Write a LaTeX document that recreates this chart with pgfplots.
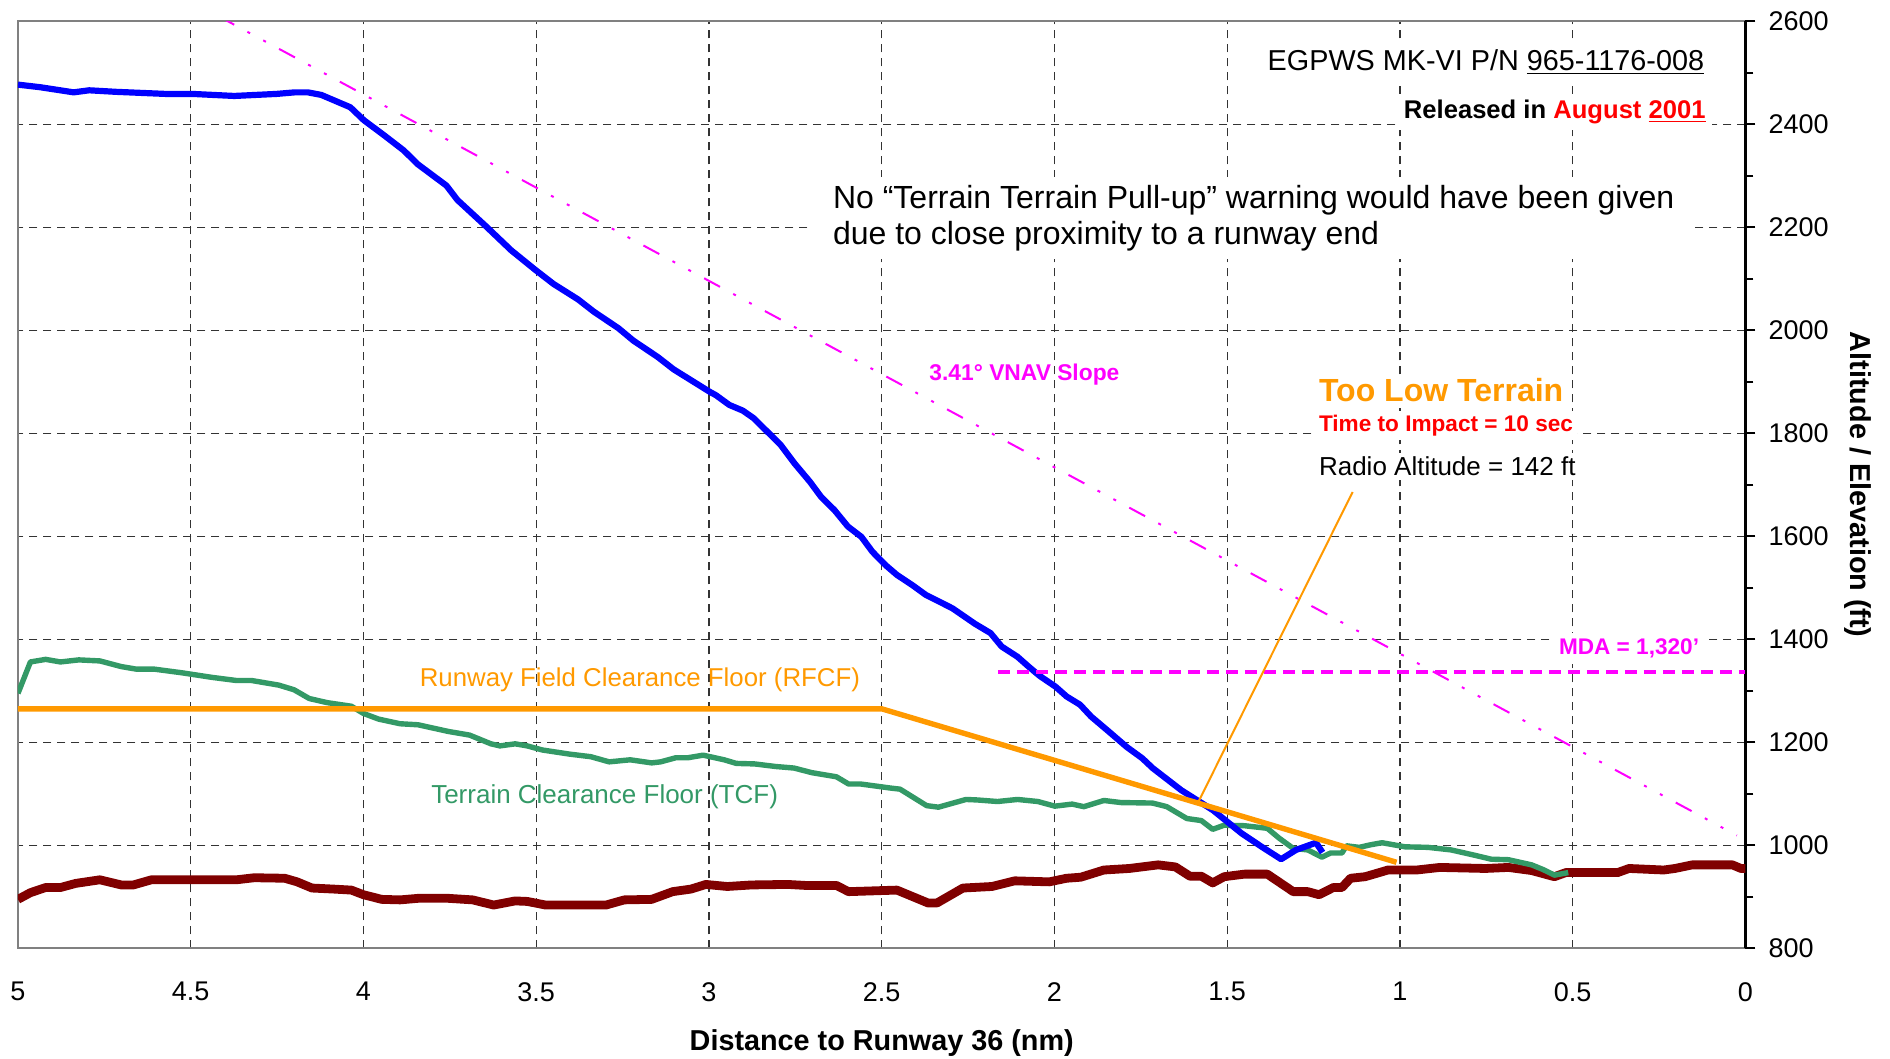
\documentclass[border=0pt]{standalone}
\usepackage{fontspec}
\setmainfont{Liberation Sans}
\usepackage{pgfplots}
\usepackage{pgfplotstable}
\pgfplotsset{compat=1.18}
\usetikzlibrary{calc}

\definecolor{aircraft}{RGB}{0,0,255}
\definecolor{terrain}{RGB}{128,0,0}
\definecolor{tcf}{RGB}{51,153,102}
\definecolor{rfcf}{RGB}{255,153,0}
\definecolor{vnav}{RGB}{255,0,255}
\definecolor{warnred}{RGB}{255,0,0}
\definecolor{framegray}{RGB}{128,128,128}

% aircraft altitude (ft) vs distance to runway (nm)
\pgfplotstableread{
x y
5.000 2477
4.936 2472
4.839 2462
4.794 2466
4.716 2463
4.574 2459
4.496 2459
4.374 2455
4.251 2459
4.199 2462
4.161 2462
4.122 2457
4.038 2433
3.999 2408
3.941 2379
3.883 2349
3.844 2323
3.760 2281
3.728 2253
3.644 2201
3.572 2155
3.502 2117
3.450 2090
3.379 2060
3.333 2036
3.262 2004
3.219 1980
3.148 1948
3.102 1924
2.999 1881
2.980 1874
2.941 1855
2.902 1844
2.870 1829
2.792 1777
2.753 1742
2.708 1706
2.676 1677
2.637 1651
2.598 1619
2.559 1599
2.527 1570
2.489 1544
2.456 1525
2.411 1505
2.372 1486
2.333 1473
2.295 1460
2.230 1430
2.185 1412
2.153 1386
2.107 1366
2.075 1347
2.043 1329
1.997 1308
1.965 1289
1.926 1273
1.894 1250
1.843 1221
1.791 1191
1.746 1169
1.716 1150
1.633 1107
1.541 1068
1.458 1023
1.400 997
1.344 973
1.301 991
1.243 1005
1.224 986
}\altitude

% terrain clearance floor
\pgfplotstableread{
x y
5.000 1295
4.964 1356
4.920 1361
4.877 1356
4.824 1360
4.763 1358
4.701 1347
4.657 1342
4.605 1342
4.526 1335
4.438 1326
4.368 1320
4.324 1320
4.245 1311
4.201 1302
4.157 1285
4.105 1277
4.035 1270
4.000 1256
3.956 1245
3.894 1236
3.842 1234
3.754 1221
3.693 1214
3.631 1197
3.605 1193
3.561 1197
3.526 1193
3.482 1185
3.403 1177
3.342 1172
3.289 1162
3.228 1166
3.166 1160
3.140 1162
3.096 1170
3.061 1170
3.017 1175
2.956 1166
2.921 1159
2.868 1158
2.807 1153
2.754 1150
2.702 1141
2.631 1133
2.596 1119
2.561 1119
2.473 1111
2.447 1109
2.370 1077
2.336 1074
2.256 1089
2.223 1088
2.165 1085
2.107 1089
2.048 1085
1.999 1076
1.949 1080
1.915 1075
1.857 1087
1.808 1083
1.716 1082
1.675 1075
1.617 1052
1.575 1048
1.542 1031
1.509 1039
1.450 1038
1.384 1033
1.350 1014
1.309 994
1.267 991
1.226 977
1.201 985
1.168 985
1.155 999
1.118 996
1.085 1001
1.052 1005
0.985 997
0.919 996
0.852 991
0.786 981
0.736 973
0.686 972
0.619 962
0.586 953
0.553 942
0.513 947
}\tcfloor

% terrain elevation
\pgfplotstableread{
x y
5.000 895
4.964 908
4.920 918
4.877 918
4.833 926
4.763 933
4.701 923
4.666 923
4.614 933
4.368 933
4.316 937
4.228 936
4.192 929
4.149 917
4.087 915
4.035 913
4.000 904
3.947 895
3.894 894
3.842 897
3.754 897
3.684 894
3.623 884
3.561 892
3.526 891
3.473 884
3.298 884
3.245 894
3.166 895
3.105 910
3.052 915
3.009 924
2.947 920
2.877 923
2.772 924
2.719 922
2.631 922
2.596 910
2.456 913
2.366 888
2.340 888
2.265 917
2.181 920
2.115 931
2.015 929
1.965 936
1.924 938
1.857 952
1.783 955
1.700 962
1.650 958
1.608 940
1.575 940
1.542 927
1.509 939
1.450 944
1.384 944
1.309 910
1.267 910
1.234 904
1.193 918
1.168 918
1.143 936
1.101 939
1.060 947
1.035 952
0.952 952
0.885 957
0.753 955
0.686 957
0.619 951
0.553 939
0.520 947
0.370 947
0.337 955
0.237 952
0.204 955
0.154 962
0.038 962
0.013 955
0.000 955
}\terrain

\begin{document}
\begin{tikzpicture}
\begin{axis}[
    name=ax,
    scale only axis,
    width=863.75pt, height=463.5pt,
    xmin=0, xmax=5, ymin=800, ymax=2600,
    x dir=reverse,
    xtick={0,0.5,1,1.5,2,2.5,3,3.5,4,4.5,5},
    ytick={800,1000,1200,1400,1600,1800,2000,2200,2400,2600},
    minor ytick={900,1100,1300,1500,1700,1900,2100,2300,2500},
    ytick pos=right, yticklabel pos=right,
    axis line style={draw=none},
    tick align=outside,
    xtick style={draw=none},
    ytick style={black, line width=0.8pt},
    major tick length=5pt, minor tick length=4pt,
    grid=major,
    major grid style={black!80, line width=0.6pt, dash pattern=on 4pt off 3pt},
    tick label style={font=\fontsize{13.5}{15}\selectfont},
    /pgf/number format/assume math mode=true,
    /pgf/number format/1000 sep={},
    xticklabel style={yshift=-8.5pt},
    yticklabel style={xshift=3pt},
    clip mode=individual,
]
% plot area border and value axis
\draw[framegray, line width=1pt] (axis cs:0,800) -- (axis cs:5,800) -- (axis cs:5,2600) -- (axis cs:0,2600);
\draw[black, line width=1.3pt] (axis cs:0,800) -- (axis cs:0,2600);

\addplot[terrain, line width=4.4pt, line join=round] table {\terrain};
\addplot[tcf, line width=2.7pt, line join=round] table {\tcfloor};
\addplot[aircraft, line width=3.1pt, line join=round] table {\altitude};
\addplot[rfcf, line width=2.7pt, line join=round] coordinates {(5,1265) (2.5,1265) (1.01,967)};
\addplot[vnav, line width=1pt, dash pattern=on 9pt off 7.5pt on 1.5pt off 7.5pt on 1.5pt off 7.5pt]
    coordinates {(4.42,2610) (0.025,1019)};
\addplot[vnav, line width=2pt, dash pattern=on 6pt off 3.5pt] coordinates {(2.164,1337) (0,1337)};
\addplot[rfcf, line width=1pt] coordinates {(1.583,1085) (1.137,1686)};

% annotations
\node[font=\fontsize{14.4}{16}\selectfont, anchor=east, fill=white, inner xsep=2pt, inner ysep=5pt]
    at (axis cs:0.107,2520) {EGPWS MK-VI P/N \underline{965-1176-008}};
\node[font=\bfseries\fontsize{12.8}{14}\selectfont, anchor=east, fill=white, inner sep=3pt]
    at (axis cs:0.097,2424) {Released in \textcolor{warnred}{August \underline{2001}}};
\node[font=\fontsize{16}{18.2}\selectfont, anchor=west, align=left, fill=white, inner xsep=10pt, inner ysep=4pt]
    at (axis cs:2.70,2218) {No “Terrain Terrain Pull-up” warning would have been given\\due to close proximity to a runway end};
\node[font=\bfseries\fontsize{11.4}{13}\selectfont, text=vnav] at (axis cs:2.087,1913) {3.41° VNAV Slope};
\node[font=\bfseries\fontsize{16}{18}\selectfont, text=rfcf, anchor=west, fill=white, inner sep=2pt]
    at (axis cs:1.247,1883) {Too Low Terrain};
\node[font=\bfseries\fontsize{11.3}{13}\selectfont, text=warnred, anchor=west, fill=white, inner sep=2pt]
    at (axis cs:1.247,1815) {Time to Impact = 10 sec};
\node[font=\fontsize{13}{15}\selectfont, anchor=west, fill=white, inner sep=2pt]
    at (axis cs:1.247,1736) {Radio Altitude = 142 ft};
\node[font=\bfseries\fontsize{11.3}{13}\selectfont, text=vnav, fill=white, inner sep=3pt]
    at (axis cs:0.337,1382) {MDA = 1,320'};
\node[font=\fontsize{12.9}{15}\selectfont, text=rfcf] at (axis cs:3.2,1321) {Runway Field Clearance Floor (RFCF)};
\node[font=\fontsize{13}{15}\selectfont, text=tcf] at (axis cs:3.302,1094) {Terrain Clearance Floor (TCF)};
\end{axis}
% axis titles
\node[font=\bfseries\fontsize{14.4}{16}\selectfont] at ($(ax.south)+(0,-47.3pt)$) {Distance to Runway 36 (nm)};
\node[font=\bfseries\fontsize{14.4}{16}\selectfont, rotate=-90] at ($(ax.east)+(56pt,0)$) {Altitude / Elevation (ft)};
\pgfresetboundingbox
\path ($(ax.south west)+(-9pt,-55.35pt)$) rectangle ($(ax.north east)+(72.25pt,10.65pt)$);
\end{tikzpicture}
\end{document}
